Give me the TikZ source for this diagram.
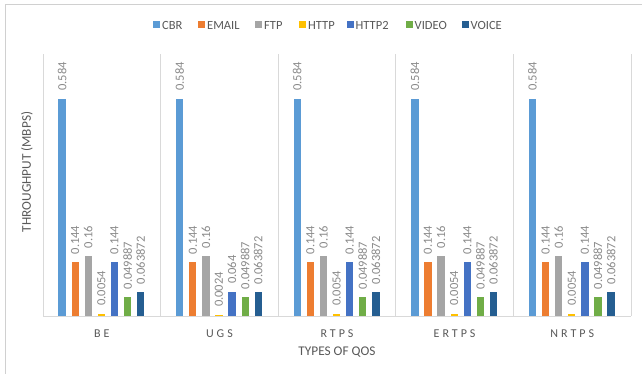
\documentclass[tikz,border=0pt]{standalone}
\usepackage{fontspec}
\setmainfont{Carlito}
\definecolor{ser0}{HTML}{5B9BD5}
\definecolor{ser1}{HTML}{ED7D31}
\definecolor{ser2}{HTML}{A5A5A5}
\definecolor{ser3}{HTML}{FFC000}
\definecolor{ser4}{HTML}{4472C4}
\definecolor{ser5}{HTML}{70AD47}
\definecolor{ser6}{HTML}{255E91}
\definecolor{gridc}{HTML}{D9D9D9}
\definecolor{framec}{HTML}{D0D0D0}
\definecolor{txt}{HTML}{595959}
\definecolor{lblc}{HTML}{8A8A8A}
\tikzset{
  lbl/.style={rotate=90,anchor=west,inner sep=0pt,text=lblc,font=\fontsize{12.5}{13}\selectfont},
  catlbl/.style={inner sep=0pt,text=txt,font=\fontsize{12}{13}\selectfont\addfontfeature{LetterSpace=25}},
  legsq/.style={fill=#1,minimum size=7pt,inner sep=0pt},
  legtxt/.style={anchor=west,inner sep=0pt,text=txt,font=\fontsize{12.5}{13}\selectfont},
  axtitle/.style={inner sep=0pt,text=txt,font=\fontsize{13.3}{14}\selectfont}
}
\def\valsA{0.584,0.144,0.16,0.0054,0.144,0.049887,0.063872}
\def\valsB{0.584,0.144,0.16,0.0024,0.064,0.049887,0.063872}
\begin{document}
\begin{tikzpicture}[x=1pt,y=1pt]
\useasboundingbox (0,0) rectangle (642,374);
\fill[white] (0,0) rectangle (642,374);
% outer chart frame
\draw[framec,line width=1pt] (5.5,-5) -- (5.5,369.5) -- (660,369.5);
% plot area separators and baseline
\foreach \k in {0,...,5} {
  \draw[gridc,line width=0.8pt] ({43+117.6*\k},58) -- ({43+117.6*\k},320);
}
\draw[gridc,line width=0.8pt] (43,58) -- (631,58);
% bars and data labels
\foreach \g [count=\k from 0] in {A,B,A,A,A} {
  \edef\vals{\csname vals\g\endcsname}
  \foreach \v [count=\i from 0] in \vals {
    \fill[ser\i] ({43+117.6*\k+15.4+13.1*\i},58) rectangle ++(7.3,{\v*372});
    \node[lbl] (l\k\i) at ({43+117.6*\k+15.4+13.1*\i+3.65},{58+\v*372+8}) {\v};
  }
}
% category labels
\foreach \c [count=\k from 0] in {BE,UGS,RTPS,ERTPS,NRTPS} {
  \node[catlbl] (cat\k) at ({43+117.6*\k+58.8},40) {\c};
}
% axis titles
\node[axtitle] (xt) at (337,22) {TYPES OF QOS};
\node[axtitle,rotate=90] (yt) at (27,202) {THROUGHPUT (MBPS)};
% legend
\foreach \n/\sx/\c [count=\i from 0] in {CBR/156.5/ser0,EMAIL/201.5/ser1,FTP/258.5/ser2,HTTP/302.5/ser3,HTTP2/350/ser4,VIDEO/409/ser5,VOICE/465/ser6} {
  \node[legsq=\c] (sq\i) at (\sx,349) {};
  \node[legtxt] (lt\i) at (\sx+5.5,349) {\n};
}
\end{tikzpicture}
\end{document}
